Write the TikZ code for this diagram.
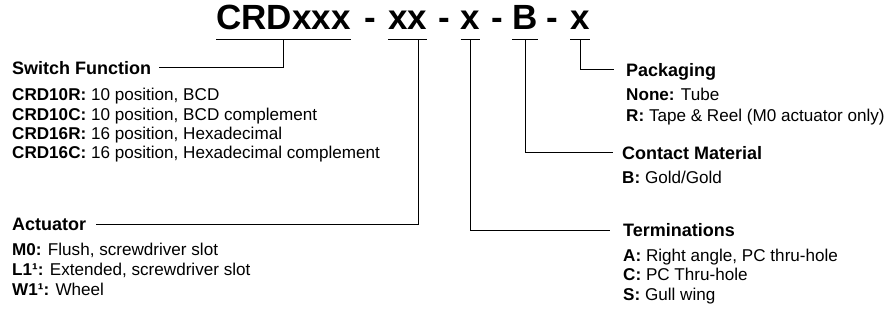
\documentclass[tikz,border=0pt]{standalone}
\usepackage{fontspec}
\setmainfont{Liberation Sans}
\usetikzlibrary{positioning}

\begin{document}
\begin{tikzpicture}[x=1pt,y=-1pt,
    part/.style={%
      inner sep=0pt,
      anchor=base,
      font=\fontsize{35}{40}\selectfont\bfseries,
    },
    head/.style={%
      inner sep=0pt,
      anchor=base west,
      text height=13pt,
      text depth=0pt,
      font=\fontsize{18}{20}\selectfont\bfseries,
    },
    item/.style={%
      inner sep=0pt,
      anchor=base west,
      font=\fontsize{17.1}{20}\selectfont,
    },
    lead/.style={line width=0.8pt},
  ]
    \useasboundingbox (0,0) rectangle (891,322);

    % ordering code
    \node [part] (crd) at (283.5,29) {CRDxxx};
    \node [part] (d1) at (370,29) {-};
    \node [part] (xx) at (407.5,29) {xx};
    \node [part] (d2) at (444.5,29) {-};
    \node [part] (x1) at (470.5,29) {x};
    \node [part] (d3) at (497.5,29) {-};
    \node [part] (b) at (525,29) {B};
    \node [part] (d4) at (552.5,29) {-};
    \node [part] (x2) at (580,29) {x};

    \foreach \p in {crd,xx,x1,b,x2}
      \draw [lead] ([yshift=-10pt]\p.base west) -- ([yshift=-10pt]\p.base east);

    \coordinate (crd-t) at ([yshift=-10pt]crd.base);
    \coordinate (xx-t) at ([xshift=10.5pt,yshift=-10pt]xx.base);
    \coordinate (x1-t) at ([yshift=-10pt]x1.base);
    \coordinate (b-t) at ([yshift=-10pt]b.base);
    \coordinate (x2-t) at ([yshift=-10pt]x2.base);

    % headings
    \node [head] (swf) at (12,74) {Switch Function};
    \node [head] (act) at (12,230.7) {Actuator};
    \node [head] (pkg) at (626,76) {Packaging};
    \node [head] (cmt) at (622,159) {Contact Material};
    \node [head] (trm) at (623,236.7) {Terminations};

    % options
    \foreach \txt [count=\i] in {%
        {\textbf{CRD10R:} 10 position, BCD},
        {\textbf{CRD10C:} 10 position, BCD complement},
        {\textbf{CRD16R:} 16 position, Hexadecimal},
        {\textbf{CRD16C:} 16 position, Hexadecimal complement}}
      \path (swf.base west) ++(0,26.7+19.4*\i-19.4) node [item] {\txt};
    \foreach \txt [count=\i] in {%
        {\textbf{M0:} Flush, screwdriver slot},
        {\textbf{L1¹:} Extended, screwdriver slot},
        {\textbf{W1¹:} Wheel}}
      \path (act.base west) ++(0,24.3+20*\i-20) node [item] {\txt};
    \foreach \txt [count=\i] in {%
        {\textbf{None:} Tube},
        {\textbf{R:} Tape \& Reel (M0 actuator only)}}
      \path (pkg.base west) ++(0,24+21.7*\i-21.7) node [item] {\txt};
    \path (cmt.base west) ++(0,24) node [item] {\textbf{B:} Gold/Gold};
    \foreach \txt [count=\i] in {%
        {\textbf{A:} Right angle, PC thru-hole},
        {\textbf{C:} PC Thru-hole},
        {\textbf{S:} Gull wing}}
      \path (trm.base west) ++(0,25+19.2*\i-19.2) node [item] {\txt};

    % leaders
    \draw [lead] (crd-t) |- ([xshift=8pt]swf.east);
    \draw [lead] (xx-t) |- ([xshift=10pt]act.east);
    \draw [lead] (x1-t) |- ([xshift=-13pt]trm.west);
    \draw [lead] (b-t) |- ([xshift=-9pt]cmt.west);
    \draw [lead] (x2-t) |- ([xshift=-12pt]pkg.west);
\end{tikzpicture}
\end{document}
